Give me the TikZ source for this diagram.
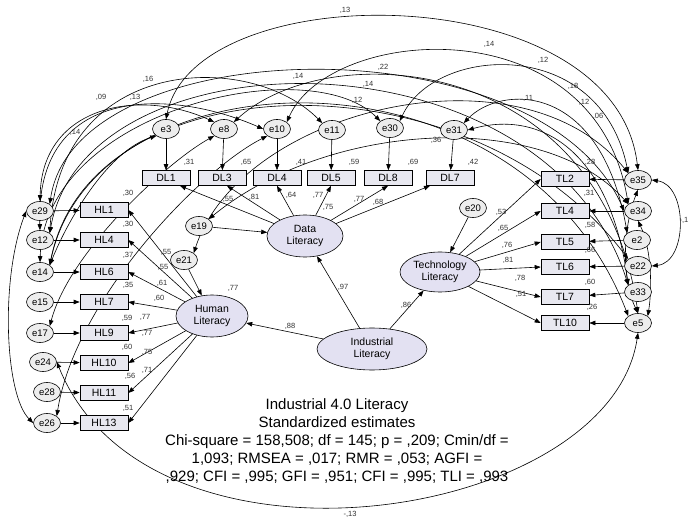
\documentclass[tikz,border=0pt]{standalone}
\usepackage{fontspec}
\setmainfont{Liberation Sans}
\usetikzlibrary{shapes.geometric,arrows.meta}
\definecolor{latfill}{HTML}{E3E1F2}
\definecolor{obsfill}{HTML}{E8E8F0}
\definecolor{errfill}{HTML}{EDEDED}
\pgfdeclarelayer{arcs}
\pgfsetlayers{arcs,main}
\begin{document}
\begin{tikzpicture}[x=1pt,y=-1pt,
  err/.style={ellipse, draw, line width=0.6pt, fill=errfill, minimum width=27pt, minimum height=19pt, inner sep=0pt, font=\fontsize{9.5}{9.5}\selectfont},
  obs/.style={rectangle, draw, line width=0.6pt, fill=obsfill, minimum width=48pt, minimum height=15pt, inner sep=0pt, font=\fontsize{10.5}{10.5}\selectfont},
  lat/.style={ellipse, draw, line width=0.6pt, fill=latfill, inner sep=0pt, align=center, font=\fontsize{10.5}{12}\selectfont},
  val/.style={font=\fontsize{7.5}{8}\selectfont, inner sep=0pt, text=black!80},
  pth/.style={-{Triangle[length=6pt,width=4.5pt]}, line width=0.6pt},
  cov/.style={{Triangle[length=6pt,width=4.5pt]}-{Triangle[length=6pt,width=4.5pt]}, line width=0.6pt},
]
\useasboundingbox (0,0) rectangle (690,518);

% ---------- nodes ----------
\node[err] (e3)  at (166,129) {e3};
\node[err] (e8)  at (224,129) {e8};
\node[err] (e10) at (277,129) {e10};
\node[err] (e11) at (332,130) {e11};
\node[err] (e30) at (390,128) {e30};
\node[err] (e31) at (454,130) {e31};

\node[obs] (DL1) at (166,178) {DL1};
\node[obs] (DL3) at (222,178) {DL3};
\node[obs] (DL4) at (277,178) {DL4};
\node[obs] (DL5) at (331,178) {DL5};
\node[obs] (DL8) at (388,178) {DL8};
\node[obs] (DL7) at (450,178) {DL7};

\node[err] (e29) at (40,211) {e29};
\node[err] (e12) at (40,240) {e12};
\node[err] (e14) at (40,272) {e14};
\node[err] (e15) at (40,302) {e15};
\node[err] (e17) at (40,333) {e17};
\node[err] (e24) at (43,362) {e24};
\node[err] (e28) at (47,392) {e28};
\node[err] (e26) at (47,423) {e26};

\node[obs] (HL1)  at (104,210) {HL1};
\node[obs] (HL4)  at (104,240) {HL4};
\node[obs] (HL6)  at (104,272) {HL6};
\node[obs] (HL7)  at (104,302) {HL7};
\node[obs] (HL9)  at (104,333) {HL9};
\node[obs] (HL10) at (104,363) {HL10};
\node[obs] (HL11) at (104,393) {HL11};
\node[obs] (HL13) at (104,423) {HL13};

\node[err] (e19) at (199,226) {e19};
\node[err] (e21) at (184,260) {e21};
\node[err] (e20) at (473,208) {e20};

\node[lat, minimum width=72pt, minimum height=42pt] (Human) at (212,316) {Human\\Literacy};
\node[lat, minimum width=76pt, minimum height=42pt] (Data) at (305,236) {Data\\Literacy};
\node[lat, minimum width=80pt, minimum height=40pt] (Tech) at (440,272) {Technology\\Literacy};
\node[lat, minimum width=110pt, minimum height=42pt] (Ind) at (372,349) {Industrial\\Literacy};

\node[obs] (TL2)  at (565,179) {TL2};
\node[obs] (TL4)  at (565,211) {TL4};
\node[obs] (TL5)  at (565,242) {TL5};
\node[obs] (TL6)  at (565,267) {TL6};
\node[obs] (TL7)  at (565,297) {TL7};
\node[obs] (TL10) at (565,323) {TL10};

\node[err] (e35) at (638,180) {e35};
\node[err] (e34) at (638,211) {e34};
\node[err] (e2)  at (637,240) {e2};
\node[err] (e22) at (638,266) {e22};
\node[err] (e33) at (638,292) {e33};
\node[err] (e5)  at (638,323) {e5};

% ---------- covariance arcs (behind the nodes) ----------
\begin{pgfonlayer}{arcs}
\fill[white] (0,0) rectangle (690,518);
\draw[cov] (e3.north) .. controls (195,-25) and (615,-25) .. (e35.north);
\draw[cov] (e10.north east) .. controls (330,25) and (595,5) .. (e34.north west);
\draw[cov] (e30.north east) .. controls (435,45) and (600,35) .. (e35.north west);
\draw[cov] (e31.north east) .. controls (500,85) and (600,80) .. (e2.north west);
\draw[cov] (e31.east) .. controls (540,110) and (610,150) .. (e33.north west);
\draw[cov] (e8.north east) .. controls (330,35) and (600,55) .. (e5.north);

\draw[cov] (e29.north) .. controls (42,105) and (140,88) .. (e8.north west);
\draw[cov] (e12.north) .. controls (35,85) and (170,88) .. (e10.west);
\draw[cov] (e12.north east) .. controls (60,55) and (250,50) .. (e11.north west);
\draw[cov] (e14.north) .. controls (45,110) and (310,50) .. (e30.north west);
\draw[cov] (e29.north east) .. controls (75,30) and (540,20) .. (e34.west);
\draw[cov] (e12.north east) .. controls (85,30) and (545,25) .. (e33.north west);
\draw[cov] (e14.north east) .. controls (95,50) and (520,35) .. (e5.north west);
\draw[cov] (e14.north east) .. controls (90,60) and (470,50) .. (e22.north west);

\draw[cov] (e8.south west) .. controls (170,160) and (70,250) .. (e17.north east);
\draw[cov] (e10.south west) .. controls (200,170) and (75,300) .. (e26.north east);
\draw[cov] (e3.south west) .. controls (110,150) and (70,215) .. (e14.north east);

\draw[cov] (e19.north east) .. controls (330,120) and (545,110) .. (e34.north west);
\draw[cov] (e21.north east) .. controls (240,110) and (520,40) .. (e35.north west);

\draw[cov] (e35.east) .. controls (688,185) and (688,262) .. (e22.east);
\draw[cov] (e35.south) .. controls (622,230) and (622,280) .. (e5.north);
\draw[cov] (e34.south) .. controls (652,250) and (652,290) .. (e5.north east);

\draw[cov] (e24.east) .. controls (150,592) and (610,522) .. (e5.south);
\draw[cov] (e29.west) .. controls (0,280) and (5,395) .. (e26.west);
\end{pgfonlayer}

% ---------- regression paths ----------
\foreach \a/\b in {e3/DL1,e8/DL3,e10/DL4,e11/DL5,e30/DL8,e31/DL7}
  \draw[pth] (\a) -- (\b);
\draw[pth] (Data) -- ([xshift=14pt]DL1.south);
\draw[pth] (Data) -- ([xshift=5pt]DL3.south);
\draw[pth] (Data) -- (DL4.south);
\draw[pth] (Data) -- (DL5.south);
\draw[pth] (Data) -- (DL8.south);
\draw[pth] (Data) -- ([xshift=-20pt]DL7.south);

\foreach \a/\b in {e29/HL1,e12/HL4,e14/HL6,e15/HL7,e17/HL9,e24/HL10,e28/HL11,e26/HL13}
  \draw[pth] (\a) -- (\b);
\foreach \b in {HL1,HL4,HL6,HL7,HL9,HL10,HL11,HL13}
  \draw[pth] (Human) -- (\b.east);

\foreach \a/\b in {e35/TL2,e34/TL4,e2/TL5,e22/TL6,e33/TL7,e5/TL10}
  \draw[pth] (\a) -- (\b);
\foreach \b in {TL2,TL4,TL5,TL6,TL7,TL10}
  \draw[pth] (Tech) -- (\b.west);

\draw[pth] (e19) -- (Data);
\draw[pth] (e21) -- (Human);
\draw[pth] (e20) -- (Tech);
\draw[pth] (Ind) -- (Human);
\draw[pth] (Ind) -- (Data);
\draw[pth] (Ind) -- (Tech);

% ---------- estimates ----------
\node[val] (c1) at (345,10) {,13};
\node[val] (c2) at (489,44) {,14};
\node[val] (c3) at (543,60) {,12};
\node[val] (c4) at (528,98) {,11};
\node[val] (c5) at (598,116) {,06};
\node[val] (c6) at (573,86) {,18};
\node[val] (c7) at (584,102) {,12};
\node[val] (c8) at (135,97) {,13};
\node[val] (c9) at (101,97) {,09};
\node[val] (c10) at (148,79) {,16};
\node[val] (c11) at (75,132) {,14};
\node[val] (c12) at (383,67) {,22};
\node[val] (c13) at (368,84) {,14};
\node[val] (c14) at (357,100) {,12};
\node[val] (c15) at (298,76) {,14};
\node[val] (c16) at (436,140) {,36};
\node[val] (c17) at (684,220) {-,1};
\node[val] (c18) at (350,514) {-,13};

\node[val] (r1) at (189,162) {,31};
\node[val] (r2) at (246,162) {,65};
\node[val] (r3) at (301,162) {,41};
\node[val] (r4) at (354,162) {,59};
\node[val] (r5) at (413,162) {,69};
\node[val] (r6) at (473,162) {,42};

\node[val] (d1) at (228,199) {,55};
\node[val] (d2) at (254,197) {,81};
\node[val] (d3) at (291,195) {,64};
\node[val] (d4) at (318,195) {,77};
\node[val] (d5) at (328,207) {,75};
\node[val] (d6) at (359,199) {,77};
\node[val] (d7) at (378,202) {,68};

\node[val] (h1) at (128,193) {,30};
\node[val] (h2) at (128,224) {,30};
\node[val] (h3) at (128,255) {,37};
\node[val] (h4) at (128,285) {,35};
\node[val] (h5) at (127,318) {,59};
\node[val] (h6) at (127,347) {,60};
\node[val] (h7) at (130,376) {,56};
\node[val] (h8) at (128,408) {,51};

\node[val] (g1) at (166,252) {,55};
\node[val] (g2) at (163,267) {,55};
\node[val] (g3) at (162,283) {,61};
\node[val] (g4) at (159,298) {,60};
\node[val] (g5) at (145,317) {,77};
\node[val] (g6) at (147,333) {,77};
\node[val] (g7) at (147,352) {,75};
\node[val] (g8) at (147,370) {,71};

\node[val] (s1) at (233,288) {,77};
\node[val] (s2) at (290,326) {,88};
\node[val] (s3) at (343,287) {,97};
\node[val] (s4) at (406,305) {,86};

\node[val] (t1) at (501,212) {,53};
\node[val] (t2) at (503,228) {,65};
\node[val] (t3) at (507,245) {,76};
\node[val] (t4) at (508,260) {,81};
\node[val] (t5) at (520,278) {,78};
\node[val] (t6) at (521,294) {,51};

\node[val] (u1) at (590,162) {,28};
\node[val] (u2) at (589,193) {,31};
\node[val] (u3) at (590,225) {,58};
\node[val] (u4) at (590,250) {,66};
\node[val] (u5) at (590,282) {,60};
\node[val] (u6) at (592,307) {,26};

% ---------- caption ----------
\node[align=center, font=\fontsize{15}{17.8}\selectfont, inner sep=0pt] (cap) at (337,441)
 {Industrial 4.0 Literacy\\
  Standardized estimates\\
  Chi-square = 158,508; df = 145; p = ,209; Cmin/df =\\
  1,093; RMSEA = ,017; RMR = ,053; AGFI =\\
  ,929; CFI = ,995; GFI = ,951; CFI = ,995; TLI = ,993};
\end{tikzpicture}
\end{document}
